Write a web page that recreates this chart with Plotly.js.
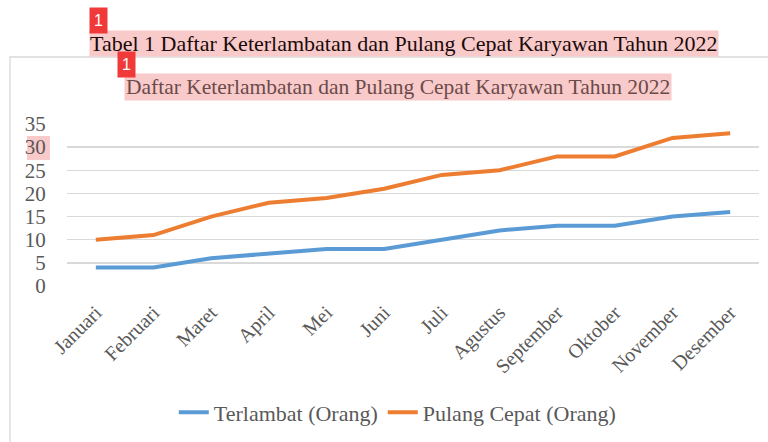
<!DOCTYPE html>
<html>
<head>
<meta charset="utf-8">
<script src="https://cdn.plot.ly/plotly-3.0.1.min.js"></script>
<style>html,body{margin:0;padding:0;background:#fff;}#chart{width:768px;height:442px;}</style>
</head>
<body>
<div id="chart"></div>
<script>
const months = ["Januari","Februari","Maret","April","Mei","Juni","Juli","Agustus","September","Oktober","November","Desember"];
const terlambat = [4,4,6,7,8,8,10,12,13,13,15,16];
const pulangCepat = [10,11,15,18,19,21,24,25,28,28,32,33];
const yTicks = [0,5,10,15,20,25,30,35];
const captionText = "Tabel 1 Daftar Keterlambatan dan Pulang Cepat Karyawan Tahun 2022";
const titleText = "Daftar Keterlambatan dan Pulang Cepat Karyawan Tahun 2022";

const serif = "Liberation Serif, Times New Roman, serif";
const traces = [
  {x: months, y: terlambat, type: "scatter", mode: "lines", name: "Terlambat (Orang)",
   line: {color: "#5b9bd5", width: 4}},
  {x: months, y: pulangCepat, type: "scatter", mode: "lines", name: "Pulang Cepat (Orang)",
   line: {color: "#ed7d31", width: 4}}
];
const layout = {
  width: 768, height: 442,
  margin: {l: 67, r: 9, t: 124, b: 156},
  paper_bgcolor: "#fff", plot_bgcolor: "rgba(0,0,0,0)",
  font: {family: serif, color: "#595959", size: 17},
  showlegend: true,
  legend: {orientation: "h", x: 0.478, xanchor: "center", xref: "paper", y: -0.78, yanchor: "middle",
           font: {family: serif, size: 22, color: "#595959"}, itemwidth: 30, tracegroupgap: 0},
  xaxis: {type: "category", tickangle: -45, showgrid: false, zeroline: false, showline: false,
          ticks: "outside", ticklen: 6, tickcolor: "rgba(0,0,0,0)",
          tickfont: {family: serif, size: 20, color: "#595959"}, range: [-0.5, 11.5], fixedrange: true},
  yaxis: {range: [0, 35], tickvals: yTicks, ticktext: yTicks.map(String), showgrid: true, gridcolor: "#d9d9d9",
          gridwidth: 1.3, zeroline: false, showline: false, ticks: "outside", ticklen: 16, tickcolor: "rgba(0,0,0,0)",
          tickfont: {family: serif, size: 21, color: "#595959"}, fixedrange: true},
  shapes: [
    {type: "rect", xref: "paper", yref: "paper", x0: -0.0824, x1: 1.03, y0: -1.2, y1: 1.4136,
     line: {color: "#d9d9d9", width: 1.3}, fillcolor: "rgba(0,0,0,0)", layer: "below"},
    {type: "rect", xref: "paper", yref: "paper", x0: -0.0578, x1: -0.0246, y0: 0.778, y1: 0.926,
     line: {width: 0}, fillcolor: "#f9caca", layer: "below"}
  ],
  annotations: [
    {text: captionText, xref: "paper", yref: "paper", x: 0.487, y: 1.494, xanchor: "center", yanchor: "middle",
     showarrow: false, font: {family: serif, size: 22, color: "#1a0a0a"}, bgcolor: "#f9caca", borderpad: 0},
    {text: titleText, xref: "paper", yref: "paper", x: 0.478, y: 1.228, xanchor: "center", yanchor: "middle",
     showarrow: false, font: {family: serif, size: 21.5, color: "#6b4a4a"}, bgcolor: "#f9caca", borderpad: 1},
    {text: "1", xref: "paper", yref: "paper", x: 0.046, y: 1.636, xanchor: "center", yanchor: "middle",
     showarrow: false, font: {family: "Liberation Sans, Arial, sans-serif", size: 16, color: "#fff"},
     bgcolor: "#f03a3a", borderpad: 4},
    {text: "1", xref: "paper", yref: "paper", x: 0.0867, y: 1.37, xanchor: "center", yanchor: "middle",
     showarrow: false, font: {family: "Liberation Sans, Arial, sans-serif", size: 16, color: "#fff"},
     bgcolor: "#f03a3a", borderpad: 4}
  ]
};
Plotly.newPlot("chart", traces, layout, {staticPlot: true, displayModeBar: false});
</script>
</body>
</html>
